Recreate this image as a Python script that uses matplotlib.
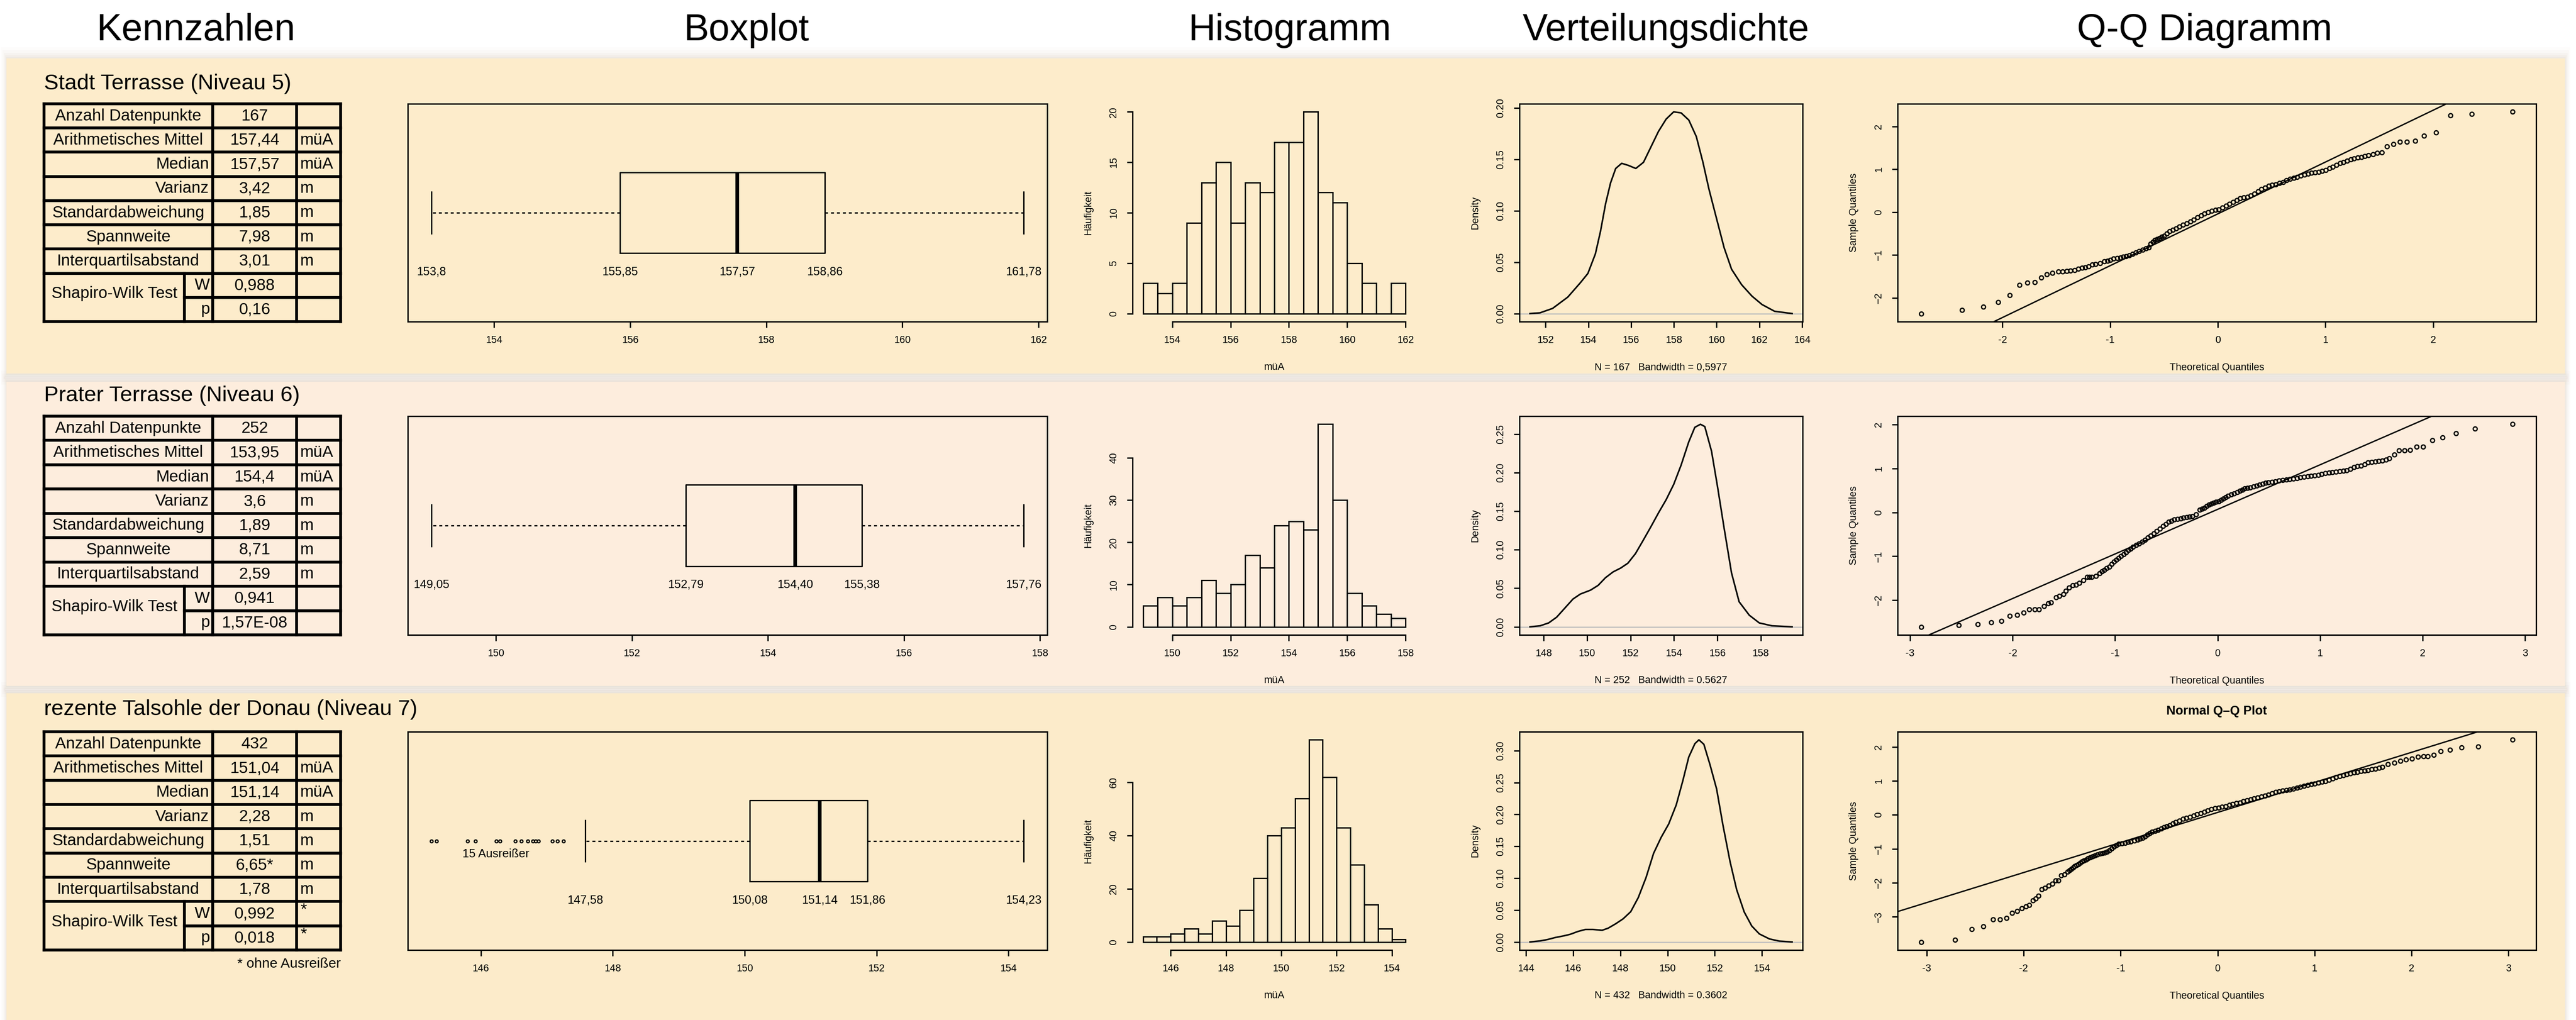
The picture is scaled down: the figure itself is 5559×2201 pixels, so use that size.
import matplotlib
matplotlib.use('Agg')
import numpy as np
import matplotlib.pyplot as plt
from matplotlib.patches import Rectangle
from matplotlib.ticker import MultipleLocator, FormatStrFormatter

plt.rcParams['font.family'] = ['Liberation Sans', 'DejaVu Sans']

W, H, DPI = 5559, 2201, 300

# ------------------------------------------------------------------
# data
# ------------------------------------------------------------------
HEADERS = ['Kennzahlen', 'Boxplot', 'Histogramm', 'Verteilungsdichte', 'Q-Q Diagramm']
ROW_NAMES = ['Stadt Terrasse (Niveau 5)', 'Prater Terrasse (Niveau 6)',
             'rezente Talsohle der Donau (Niveau 7)']

STAT_LABELS = ['Anzahl Datenpunkte', 'Arithmetisches Mittel', 'Median', 'Varianz',
               'Standardabweichung', 'Spannweite', 'Interquartilsabstand']
STAT_ALIGN = ['center', 'center', 'right', 'right', 'center', 'center', 'center']
STAT_UNITS = ['', 'müA', 'müA', 'm', 'm', 'm', 'm']

VALUES_N5 = ['167', '157,44', '157,57', '3,42', '1,85', '7,98', '3,01']
VALUES_N6 = ['252', '153,95', '154,4', '3,6', '1,89', '8,71', '2,59']
VALUES_N7 = ['432', '151,04', '151,14', '2,28', '1,51', '6,65*', '1,78']
SW_N5 = ['0,988', '0,16']
SW_N6 = ['0,941', '1,57E-08']
SW_N7 = ['0,992', '0,018']
SW_UNITS_N5 = ['', '']
SW_UNITS_N6 = ['', '']
SW_UNITS_N7 = ['*', '*']

# boxplot statistics (whislo, q1, med, q3, whishi) and printed labels
BOX_N5 = [153.08, 155.85, 157.57, 158.86, 161.78]
BOX_N6 = [149.05, 152.79, 154.40, 155.38, 157.76]
BOX_N7 = [147.58, 150.08, 151.14, 151.86, 154.23]
BOX_LABELS_N5 = ['153,8', '155,85', '157,57', '158,86', '161,78']
BOX_LABELS_N6 = ['149,05', '152,79', '154,40', '155,38', '157,76']
BOX_LABELS_N7 = ['147,58', '150,08', '151,14', '151,86', '154,23']
FLIERS_N7 = [145.25, 145.33, 145.80, 145.92, 146.23, 146.29, 146.52, 146.61,
             146.71, 146.79, 146.83, 146.87, 147.08, 147.16, 147.25]

# histograms: first bin edge, bin width, counts
HIST_START = [153.0, 149.0, 145.0]
HIST_WIDTH = 0.5
HIST_N5 = [3, 2, 3, 9, 13, 15, 9, 13, 12, 17, 17, 20, 12, 11, 5, 3, 0, 3]
HIST_N6 = [5, 7, 5, 7, 11, 8, 10, 17, 14, 24, 25, 23, 48, 30, 8, 5, 3, 2]
HIST_N7 = [2, 2, 3, 5, 3, 8, 6, 12, 24, 40, 43, 54, 76, 62, 43, 29, 14, 5, 1]

# kernel density curves
DENS_X_N5 = [151.27, 151.74, 152.33, 153.04, 153.63, 153.98, 154.33, 154.57, 154.81, 155.04,
             155.28, 155.56, 155.87, 156.22, 156.58, 156.93, 157.28, 157.64, 157.99, 158.34,
             158.70, 159.05, 159.36, 159.64, 160.00, 160.35, 160.70, 161.17, 161.65, 162.12,
             162.71, 163.53]
DENS_Y_N5 = [0.0, 0.0007, 0.005, 0.016, 0.030, 0.039, 0.058, 0.080, 0.107, 0.127,
             0.141, 0.146, 0.144, 0.141, 0.147, 0.162, 0.177, 0.189, 0.196, 0.195,
             0.188, 0.172, 0.147, 0.121, 0.092, 0.064, 0.043, 0.028, 0.017, 0.0088,
             0.0022, 0.0]
DENS_X_N6 = [147.37, 147.84, 148.23, 148.60, 149.00, 149.35, 149.69, 150.16, 150.51, 150.85,
             151.20, 151.55, 151.88, 152.23, 152.59, 152.94, 153.29, 153.64, 153.99, 154.33,
             154.68, 154.96, 155.22, 155.42, 155.73, 156.00, 156.31, 156.65, 157.00, 157.47,
             157.93, 158.51, 159.44]
DENS_Y_N6 = [0.0, 0.0013, 0.005, 0.0125, 0.025, 0.036, 0.0425, 0.0476, 0.0538, 0.0638,
             0.0713, 0.0763, 0.0826, 0.0951, 0.1126, 0.130, 0.148, 0.165, 0.185, 0.210,
             0.240, 0.259, 0.263, 0.260, 0.228, 0.183, 0.128, 0.070, 0.0325, 0.015,
             0.005, 0.0013, 0.0]
DENS_X_N7 = [144.17, 144.60, 144.92, 145.24, 145.60, 145.88, 146.20, 146.52, 146.84, 147.23,
             147.48, 147.80, 148.12, 148.44, 148.76, 149.09, 149.41, 149.73, 150.05, 150.37,
             150.65, 150.90, 151.16, 151.33, 151.54, 151.80, 152.08, 152.35, 152.65, 152.93,
             153.25, 153.57, 153.89, 154.32, 154.74, 155.28]
DENS_Y_N7 = [0.0, 0.0016, 0.0038, 0.0069, 0.0095, 0.012, 0.0164, 0.0196, 0.0196, 0.0183,
             0.0215, 0.0284, 0.0363, 0.0474, 0.0695, 0.101, 0.139, 0.164, 0.185, 0.215,
             0.253, 0.290, 0.311, 0.317, 0.310, 0.278, 0.240, 0.183, 0.126, 0.082,
             0.047, 0.025, 0.0126, 0.0047, 0.0013, 0.0]
DENS_CAPTION = ['N = 167   Bandwidth = 0,5977', 'N = 252   Bandwidth = 0.5627',
                'N = 432   Bandwidth = 0.3602']

# normal Q-Q points (theoretical, sample) and reference line (intercept, slope)
QQ_THEO_N5 = [-2.755, -2.375, -2.177, -2.040, -1.934, -1.841, -1.770, -1.700, -1.642, -1.589,
              -1.536, -1.483, -1.444, -1.404, -1.369, -1.329, -1.294, -1.263, -1.232, -1.201,
              -1.166, -1.135, -1.095, -1.055, -1.026, -0.998, -0.967, -0.936, -0.905, -0.879,
              -0.852, -0.821, -0.792, -0.764, -0.731, -0.698, -0.668, -0.640, -0.623, -0.605,
              -0.587, -0.565, -0.543, -0.521, -0.499, -0.473, -0.446, -0.418, -0.389, -0.356,
              -0.322, -0.289, -0.256, -0.223, -0.190, -0.157, -0.124, -0.090, -0.057, -0.024,
              0.009, 0.042, 0.075, 0.108, 0.141, 0.175, 0.208, 0.241, 0.274, 0.307,
              0.340, 0.373, 0.406, 0.439, 0.472, 0.505, 0.539, 0.572, 0.605, 0.638,
              0.671, 0.704, 0.737, 0.770, 0.804, 0.837, 0.870, 0.903, 0.936, 0.969,
              1.002, 1.035, 1.068, 1.101, 1.135, 1.168, 1.201, 1.234, 1.267, 1.300,
              1.333, 1.366, 1.400, 1.440, 1.479, 1.523, 1.572, 1.629, 1.691, 1.757,
              1.832, 1.916, 2.026, 2.159, 2.358, 2.737]
QQ_SAMP_N5 = [-2.368, -2.287, -2.206, -2.099, -1.937, -1.704, -1.650, -1.637, -1.529, -1.448,
              -1.422, -1.390, -1.390, -1.381, -1.363, -1.350, -1.327, -1.305, -1.287, -1.265,
              -1.224, -1.215, -1.197, -1.152, -1.139, -1.121, -1.085, -1.076, -1.058, -1.045,
              -1.036, -1.009, -0.975, -0.942, -0.908, -0.874, -0.850, -0.830, -0.740, -0.695,
              -0.650, -0.628, -0.605, -0.578, -0.552, -0.500, -0.448, -0.415, -0.381, -0.340,
              -0.300, -0.262, -0.224, -0.172, -0.121, -0.076, -0.031, 0.000, 0.031, 0.049,
              0.067, 0.108, 0.148, 0.193, 0.238, 0.283, 0.327, 0.343, 0.359, 0.392,
              0.426, 0.482, 0.538, 0.576, 0.614, 0.632, 0.650, 0.677, 0.704, 0.740,
              0.776, 0.798, 0.821, 0.847, 0.874, 0.896, 0.919, 0.930, 0.942, 0.965,
              0.987, 1.020, 1.054, 1.098, 1.143, 1.170, 1.197, 1.226, 1.256, 1.271,
              1.287, 1.305, 1.323, 1.350, 1.377, 1.395, 1.529, 1.583, 1.646, 1.646,
              1.668, 1.780, 1.861, 2.256, 2.296, 2.341]
QQ_THEO_N6 = [-2.892, -2.526, -2.340, -2.210, -2.108, -2.030, -1.956, -1.895, -1.840, -1.784,
              -1.742, -1.696, -1.654, -1.627, -1.576, -1.543, -1.506, -1.483, -1.450, -1.413,
              -1.381, -1.348, -1.311, -1.274, -1.251, -1.228, -1.186, -1.149, -1.128, -1.108,
              -1.083, -1.057, -1.034, -1.010, -0.987, -0.964, -0.941, -0.918, -0.895, -0.871,
              -0.848, -0.825, -0.795, -0.765, -0.737, -0.709, -0.681, -0.653, -0.623, -0.593,
              -0.563, -0.533, -0.505, -0.477, -0.450, -0.422, -0.391, -0.361, -0.331, -0.301,
              -0.273, -0.246, -0.209, -0.176, -0.153, -0.130, -0.106, -0.083, -0.060, -0.037,
              -0.014, 0.009, 0.033, 0.056, 0.079, 0.102, 0.132, 0.162, 0.190, 0.218,
              0.241, 0.264, 0.292, 0.320, 0.350, 0.380, 0.410, 0.440, 0.468, 0.496,
              0.531, 0.565, 0.600, 0.635, 0.670, 0.704, 0.739, 0.774, 0.809, 0.843,
              0.878, 0.913, 0.948, 0.982, 1.017, 1.052, 1.087, 1.121, 1.156, 1.191,
              1.226, 1.260, 1.295, 1.330, 1.365, 1.399, 1.434, 1.469, 1.504, 1.538,
              1.573, 1.608, 1.643, 1.677, 1.724, 1.770, 1.826, 1.877, 1.942, 2.006,
              2.095, 2.196, 2.326, 2.512, 2.878]
QQ_SAMP_N6 = [-2.606, -2.567, -2.545, -2.510, -2.470, -2.361, -2.339, -2.286, -2.212, -2.212,
              -2.212, -2.138, -2.076, -2.054, -1.936, -1.901, -1.857, -1.792, -1.717, -1.660,
              -1.651, -1.608, -1.542, -1.476, -1.476, -1.476, -1.454, -1.389, -1.350, -1.314,
              -1.275, -1.235, -1.180, -1.126, -1.082, -1.038, -0.995, -0.951, -0.907, -0.863,
              -0.823, -0.784, -0.747, -0.710, -0.666, -0.622, -0.578, -0.534, -0.480, -0.425,
              -0.370, -0.315, -0.267, -0.219, -0.190, -0.162, -0.151, -0.140, -0.125, -0.110,
              -0.099, -0.088, -0.044, 0.057, 0.079, 0.101, 0.138, 0.175, 0.197, 0.219,
              0.237, 0.254, 0.281, 0.307, 0.342, 0.377, 0.403, 0.429, 0.462, 0.495,
              0.517, 0.539, 0.554, 0.569, 0.587, 0.604, 0.626, 0.648, 0.666, 0.683,
              0.694, 0.705, 0.721, 0.736, 0.747, 0.758, 0.769, 0.780, 0.795, 0.810,
              0.821, 0.832, 0.843, 0.854, 0.872, 0.889, 0.900, 0.911, 0.922, 0.933,
              0.944, 0.955, 0.992, 1.029, 1.047, 1.064, 1.097, 1.130, 1.141, 1.152,
              1.163, 1.174, 1.203, 1.231, 1.314, 1.406, 1.406, 1.424, 1.489, 1.489,
              1.643, 1.708, 1.800, 1.905, 2.006]
QQ_THEO_N7 = [-3.056, -2.708, -2.537, -2.414, -2.316, -2.243, -2.179, -2.120, -2.067, -2.018,
              -1.974, -1.944, -1.905, -1.876, -1.846, -1.812, -1.778, -1.743, -1.704, -1.670,
              -1.641, -1.611, -1.582, -1.548, -1.528, -1.508, -1.491, -1.474, -1.455, -1.435,
              -1.416, -1.396, -1.377, -1.357, -1.335, -1.312, -1.288, -1.263, -1.239, -1.214,
              -1.190, -1.166, -1.141, -1.117, -1.093, -1.068, -1.044, -1.019, -0.987, -0.955,
              -0.926, -0.896, -0.860, -0.823, -0.799, -0.774, -0.750, -0.725, -0.701, -0.676,
              -0.644, -0.612, -0.583, -0.553, -0.524, -0.495, -0.463, -0.431, -0.394, -0.357,
              -0.321, -0.284, -0.248, -0.211, -0.174, -0.137, -0.101, -0.064, -0.027, 0.010,
              0.047, 0.083, 0.120, 0.157, 0.194, 0.230, 0.267, 0.304, 0.341, 0.377,
              0.414, 0.451, 0.488, 0.524, 0.561, 0.597, 0.634, 0.671, 0.708, 0.744,
              0.781, 0.818, 0.855, 0.891, 0.928, 0.965, 1.002, 1.038, 1.075, 1.112,
              1.149, 1.185, 1.222, 1.259, 1.296, 1.332, 1.369, 1.405, 1.442, 1.479,
              1.516, 1.552, 1.589, 1.626, 1.663, 1.699, 1.758, 1.822, 1.885, 1.944,
              2.003, 2.067, 2.125, 2.169, 2.228, 2.302, 2.395, 2.517, 2.689, 3.041]
QQ_SAMP_N7 = [-3.742, -3.675, -3.370, -3.285, -3.077, -3.083, -3.034, -2.894, -2.833, -2.747,
              -2.698, -2.662, -2.521, -2.460, -2.381, -2.198, -2.149, -2.088, -2.033, -1.935,
              -1.935, -1.789, -1.758, -1.679, -1.633, -1.587, -1.550, -1.514, -1.483, -1.453,
              -1.413, -1.374, -1.343, -1.313, -1.283, -1.252, -1.221, -1.190, -1.169, -1.148,
              -1.130, -1.111, -1.080, -1.050, -0.992, -0.934, -0.894, -0.855, -0.840, -0.824,
              -0.802, -0.781, -0.757, -0.733, -0.708, -0.684, -0.632, -0.580, -0.540, -0.501,
              -0.470, -0.440, -0.403, -0.366, -0.335, -0.305, -0.259, -0.214, -0.168, -0.122,
              -0.092, -0.061, -0.025, 0.012, 0.052, 0.092, 0.128, 0.165, 0.190, 0.214,
              0.235, 0.256, 0.287, 0.317, 0.342, 0.366, 0.397, 0.427, 0.458, 0.488,
              0.513, 0.537, 0.568, 0.598, 0.635, 0.672, 0.690, 0.708, 0.727, 0.745,
              0.770, 0.794, 0.825, 0.855, 0.880, 0.904, 0.925, 0.946, 0.968, 0.989,
              1.029, 1.068, 1.105, 1.142, 1.166, 1.190, 1.221, 1.252, 1.267, 1.282,
              1.301, 1.319, 1.337, 1.355, 1.386, 1.416, 1.496, 1.538, 1.587, 1.630,
              1.661, 1.709, 1.722, 1.722, 1.770, 1.880, 1.917, 1.984, 2.009, 2.210]
QQ_LINE = [(-0.04, 1.21), (0.068, 1.015), (0.072, 0.885)]

# ------------------------------------------------------------------
# layout (pixels of the 5559 x 2201 canvas)
# ------------------------------------------------------------------
ROW_FRAMES = [(224, 694), (898, 1370), (1579, 2050)]
PANELS = [(14, 126, 5535, 806, '#FDECCB'),
          (14, 824, 5535, 1480, '#FDEDDD'),
          (14, 1496, 5535, 2240, '#FCEBCA')]
BOX_X = (880, 2260)
HIST_X = (2444, 3056)
DENS_X = (3279, 3890)
QQ_X = (4095, 5473)

R_FS = 5.2
LW = 0.7

fig = plt.figure(figsize=(W / DPI, H / DPI), dpi=DPI)
fig.patch.set_facecolor('white')
bg = fig.add_axes([0, 0, 1, 1], zorder=0)
bg.set_xlim(0, W)
bg.set_ylim(H, 0)
bg.axis('off')


def frect(x0, x1, y0, y1):
    return [x0 / W, 1 - y1 / H, (x1 - x0) / W, (y1 - y0) / H]


def rlim(lo, hi):
    span = hi - lo
    return lo - 0.04 * span, hi + 0.04 * span


def r_axes(x, row):
    y0, y1 = ROW_FRAMES[row]
    ax = fig.add_axes(frect(x[0], x[1], y0, y1), zorder=2)
    ax.set_facecolor('none')
    for s in ax.spines.values():
        s.set_linewidth(LW)
    ax.tick_params(direction='out', length=3.0, width=LW, pad=4.2,
                   labelsize=R_FS, top=False, right=False)
    ax.tick_params(axis='y', labelrotation=90)
    for t in ax.get_yticklabels():
        t.set_va('center')
    return ax


# ----- panels with soft shadows -----
for x0, y0, x1, y1, col in PANELS:
    for d, a in [(24, 0.025), (18, 0.035), (12, 0.045), (7, 0.055), (3, 0.06)]:
        bg.add_patch(Rectangle((x0 - d * 0.5, y0 - d), x1 - x0 + d, y1 - y0 + 2 * d,
                               fc='#b09a78', ec='none', alpha=a, zorder=0))
    bg.add_patch(Rectangle((x0, y0), x1 - x0, y1 - y0, fc=col, ec='none', zorder=1))

# ----- headers -----
for txt, xc in zip(HEADERS, [423, 1611, 2783, 3595, 4757]):
    bg.text(xc, 66, txt, ha='center', va='center', fontsize=19.5, zorder=3)

# ----- tables -----
TX0, TXS, TX1, TX2, TX3 = 95, 398, 459, 640, 735
TFS = 8.4
TLW = 1.5
values = [VALUES_N5, VALUES_N6, VALUES_N7]
sws = [SW_N5, SW_N6, SW_N7]
sw_units = [SW_UNITS_N5, SW_UNITS_N6, SW_UNITS_N7]
title_y = [181, 854, 1531]

for r in range(3):
    top, bot = ROW_FRAMES[r]
    rh = (bot - top) / 9
    bg.text(TX0, title_y[r], ROW_NAMES[r], ha='left', va='center', fontsize=11.3, zorder=3)
    # grid
    for k in range(10):
        yk = top + k * rh
        xa = TXS if k == 8 else TX0
        bg.plot([xa, TX3], [yk, yk], color='black', lw=TLW, zorder=3,
                solid_capstyle='projecting')
    for xv in [TX0, TX1, TX2, TX3]:
        bg.plot([xv, xv], [top, bot], color='black', lw=TLW, zorder=3)
    bg.plot([TXS, TXS], [top + 7 * rh, bot], color='black', lw=TLW, zorder=3)
    # rows
    for i, (lab, al, unit, val) in enumerate(zip(STAT_LABELS, STAT_ALIGN, STAT_UNITS, values[r])):
        yc = top + (i + 0.5) * rh
        lx = (TX0 + TX1) / 2 if al == 'center' else TX1 - 8
        bg.text(lx, yc, lab, ha=al, va='center', fontsize=TFS, zorder=4)
        bg.text((TX1 + TX2) / 2, yc, val, ha='center', va='center', fontsize=TFS, zorder=4)
        bg.text(TX2 + 8, yc, unit, ha='left', va='center', fontsize=TFS, zorder=4)
    bg.text((TX0 + TXS) / 2, top + 8 * rh - 8, 'Shapiro-Wilk Test', ha='center',
            va='center', fontsize=TFS, zorder=4)
    for j, (sym, v, u) in enumerate(zip(['W', 'p'], sws[r], sw_units[r])):
        yc = top + (7.5 + j) * rh
        bg.text(TX1 - 6, yc, sym, ha='right', va='center', fontsize=TFS, zorder=4)
        bg.text((TX1 + TX2) / 2, yc, v, ha='center', va='center', fontsize=TFS, zorder=4)
        bg.text(TX2 + 8, yc - 8, u, ha='left', va='center', fontsize=TFS, zorder=4)

bg.text(TX3, 2080, '* ohne Ausreißer', ha='right', va='center', fontsize=7.2, zorder=4)

# ----- boxplots -----
box_stats = [BOX_N5, BOX_N6, BOX_N7]
box_labels = [BOX_LABELS_N5, BOX_LABELS_N6, BOX_LABELS_N7]
box_fliers = [[], [], FLIERS_N7]
for r in range(3):
    ax = r_axes(BOX_X, r)
    lo, q1, med, q3, hi = box_stats[r]
    st = dict(whislo=lo, q1=q1, med=med, q3=q3, whishi=hi, fliers=box_fliers[r])
    kw = dict(positions=[0.5], widths=0.372, capwidths=[0.19], manage_ticks=False,
              boxprops=dict(color='black', lw=LW),
              whiskerprops=dict(color='black', lw=LW, linestyle=(0, (2.2, 2.2))),
              capprops=dict(color='black', lw=LW),
              medianprops=dict(color='black', lw=1.9),
              flierprops=dict(marker='o', markerfacecolor='none', markeredgecolor='black',
                              markersize=1.5, markeredgewidth=0.6))
    try:
        ax.bxp([st], orientation='horizontal', **kw)
    except TypeError:
        ax.bxp([st], vert=False, **kw)
    ax.set_ylim(0, 1)
    ax.set_xlim(*rlim(min([lo] + box_fliers[r]), hi))
    ax.xaxis.set_major_locator(MultipleLocator(2))
    ax.xaxis.set_major_formatter(FormatStrFormatter('%d'))
    ax.set_yticks([])
    for v, s in zip(box_stats[r], box_labels[r]):
        ax.text(v, 0.229, s, ha='center', va='center', fontsize=6.1)
    if box_fliers[r]:
        ax.text(146.23, 0.44, '15 Ausreißer', ha='center', va='center', fontsize=6.1)

# ----- histograms -----
hists = [HIST_N5, HIST_N6, HIST_N7]
hist_ystep = [5, 10, 20]
for r in range(3):
    ax = r_axes(HIST_X, r)
    counts = hists[r]
    edges = HIST_START[r] + HIST_WIDTH * np.arange(len(counts) + 1)
    ax.bar(edges[:-1], counts, width=HIST_WIDTH, align='edge', facecolor='none',
           edgecolor='black', linewidth=LW)
    ax.set_xlim(*rlim(edges[0], edges[-1]))
    ax.set_ylim(*rlim(0, max(counts)))
    ax.spines['top'].set_visible(False)
    ax.spines['right'].set_visible(False)
    ax.xaxis.set_major_locator(MultipleLocator(2))
    ax.xaxis.set_major_formatter(FormatStrFormatter('%d'))
    ax.yaxis.set_major_locator(MultipleLocator(hist_ystep[r]))
    ax.yaxis.set_major_formatter(FormatStrFormatter('%d'))
    xt = [t for t in ax.get_xticks() if edges[0] <= t <= edges[-1]]
    yt = [t for t in ax.get_yticks() if 0 <= t <= max(counts)]
    ax.set_xticks(xt)
    ax.set_yticks(yt)
    ax.spines['bottom'].set_bounds(xt[0], xt[-1])
    ax.spines['left'].set_bounds(yt[0], yt[-1])
    ax.set_xlabel('müA', fontsize=R_FS, labelpad=9)
    ax.set_ylabel('Häufigkeit', fontsize=R_FS, labelpad=8)

# ----- density curves -----
dens = [(DENS_X_N5, DENS_Y_N5), (DENS_X_N6, DENS_Y_N6), (DENS_X_N7, DENS_Y_N7)]
for r in range(3):
    ax = r_axes(DENS_X, r)
    dx, dy = dens[r]
    ax.axhline(0, color='#BEBEBE', lw=0.6)
    ax.plot(dx, dy, color='black', lw=0.8)
    ax.set_xlim(*rlim(min(dx), max(dx)))
    ax.set_ylim(*rlim(0, max(dy)))
    ax.xaxis.set_major_locator(MultipleLocator(2))
    ax.xaxis.set_major_formatter(FormatStrFormatter('%d'))
    ax.yaxis.set_major_locator(MultipleLocator(0.05))
    ax.yaxis.set_major_formatter(FormatStrFormatter('%.2f'))
    ax.set_xlabel(DENS_CAPTION[r], fontsize=R_FS, labelpad=9)
    ax.set_ylabel('Density', fontsize=R_FS, labelpad=8)

# ----- Q-Q plots -----
qqs = [(QQ_THEO_N5, QQ_SAMP_N5), (QQ_THEO_N6, QQ_SAMP_N6), (QQ_THEO_N7, QQ_SAMP_N7)]
for r in range(3):
    ax = r_axes(QQ_X, r)
    tx, sy = qqs[r]
    ax.plot(tx, sy, 'o', mfc='none', mec='black', ms=2.1, mew=0.65)
    b, a = QQ_LINE[r]
    ax.axline((0, b), slope=a, color='black', lw=LW)
    ax.set_xlim(*rlim(min(tx), max(tx)))
    ax.set_ylim(*rlim(min(sy), max(sy)))
    ax.xaxis.set_major_locator(MultipleLocator(1))
    ax.yaxis.set_major_locator(MultipleLocator(1))
    ax.xaxis.set_major_formatter(FormatStrFormatter('%d'))
    ax.set_xlabel('Theoretical Quantiles', fontsize=R_FS, labelpad=9)
    ax.set_ylabel('Sample Quantiles', fontsize=R_FS, labelpad=8)
    if r == 2:
        ax.set_title('Normal Q\u2013Q Plot', fontsize=6.5, fontweight='bold', pad=9)

fig.savefig('out.png', dpi=DPI, facecolor='white')
